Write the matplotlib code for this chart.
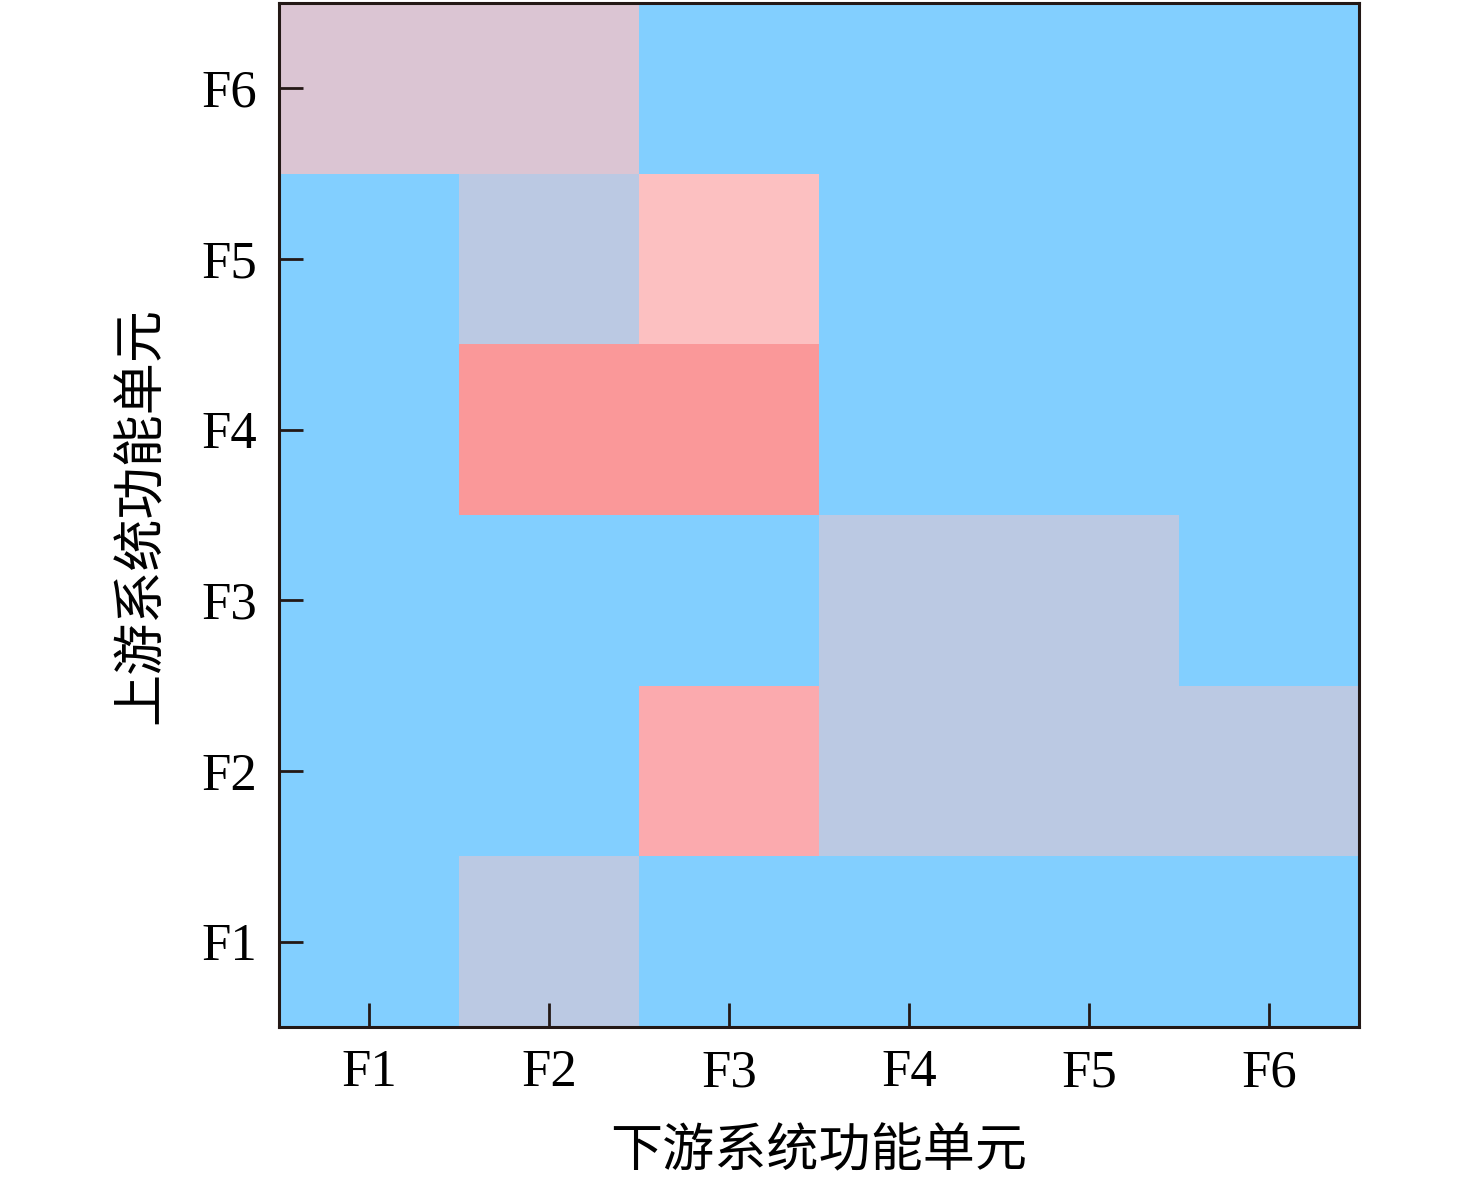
import matplotlib
matplotlib.use("Agg")
import matplotlib.pyplot as plt
import numpy as np
from matplotlib.colors import ListedColormap, BoundaryNorm

# Labels
downstream = ["F1", "F2", "F3", "F4", "F5", "F6"]
upstream = ["F1", "F2", "F3", "F4", "F5", "F6"]

# Category levels per cell (rows: upstream F1..F6, columns: downstream F1..F6)
# 0 = blue, 1 = grey-blue, 2 = pink-grey, 3 = light pink, 4 = pink, 5 = red-pink
row_F1 = [0, 1, 0, 0, 0, 0]
row_F2 = [0, 0, 4, 1, 1, 1]
row_F3 = [0, 0, 0, 1, 1, 0]
row_F4 = [0, 5, 5, 0, 0, 0]
row_F5 = [0, 1, 3, 0, 0, 0]
row_F6 = [2, 2, 0, 0, 0, 0]

level_colors = ["#82CFFF", "#BBC9E3", "#DBC5D3", "#FCC0C1", "#FBAAAE", "#FA9899"]

matrix = np.array([row_F1, row_F2, row_F3, row_F4, row_F5, row_F6])

plt.rcParams['font.family'] = ['Liberation Serif', 'Noto Sans CJK SC']

fig = plt.figure(figsize=(14.76, 11.87), dpi=100)
ax = fig.add_axes([279/1476, 1 - 1027/1187, 1080/1476, 1024/1187])

cmap = ListedColormap(level_colors)
norm = BoundaryNorm(np.arange(-0.5, len(level_colors) + 0.5, 1), cmap.N)
ax.pcolormesh(np.arange(len(downstream) + 1) - 0.5,
              np.arange(len(upstream) + 1) - 0.5,
              matrix, cmap=cmap, norm=norm, shading='flat')
ax.set_xlim(-0.5, len(downstream) - 0.5)
ax.set_ylim(-0.5, len(upstream) - 0.5)

ax.set_xticks(range(len(downstream)))
ax.set_xticklabels(downstream)
ax.set_yticks(range(len(upstream)))
ax.set_yticklabels(upstream)
ax.tick_params(direction='in', length=17, width=2.0, labelsize=38,
               color='#231815')
ax.tick_params(axis='x', pad=16)
ax.tick_params(axis='y', pad=16)
for lab in ax.get_xticklabels() + ax.get_yticklabels():
    lab.set_fontfamily('Liberation Serif')

for sp in ax.spines.values():
    sp.set_linewidth(2.2)
    sp.set_color('#231815')

cjk = ['Noto Sans CJK SC', 'DejaVu Sans']
ax.set_xlabel("下游系统功能单元", fontsize=37.5, family=cjk, labelpad=20)
ax.set_ylabel("上游系统功能单元", fontsize=37.5, family=cjk, labelpad=24)

fig.savefig("out.png", dpi=100)
